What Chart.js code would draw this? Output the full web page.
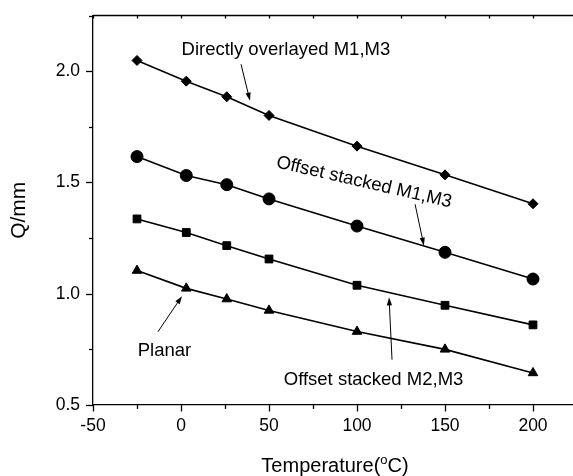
<!DOCTYPE html>
<html>
<head>
<meta charset="utf-8">
<script src="https://cdn.jsdelivr.net/npm/chart.js@4/dist/chart.umd.min.js"></script>
<style>
  html, body { margin: 0; padding: 0; background: #fff; overflow: hidden; }
  #wrap { width: 600px; height: 476px; position: relative; }
</style>
</head>
<body>
<div id="wrap"><canvas id="c"></canvas></div>
<script>
// ---- data ----
const temperatures = [-25, 3, 26, 50, 100, 150, 200];
const directlyOverlayedM1M3 = [2.048, 1.955, 1.885, 1.801, 1.663, 1.534, 1.404];
const offsetStackedM1M3 = [1.616, 1.531, 1.490, 1.426, 1.304, 1.186, 1.066];
const offsetStackedM2M3 = [1.336, 1.275, 1.216, 1.156, 1.038, 0.948, 0.860];
const planar = [1.104, 1.024, 0.976, 0.925, 0.830, 0.750, 0.644];

const xTickValues = [-50, -25, 0, 25, 50, 75, 100, 125, 150, 175, 200, 225];
const yTickValues = [0.5, 0.75, 1.0, 1.25, 1.5, 1.75, 2.0, 2.25];

const xTitle = 'Temperature(';
const xTitleSup = 'o';
const xTitleEnd = 'C)';
const yTitle = 'Q/mm';

// annotation texts with anchor positions in data units
const labelTexts = ['Directly overlayed M1,M3', 'Offset stacked M1,M3', 'Offset stacked M2,M3', 'Planar'];
const labelAnchors = [[0.3, 2.095], [104, 1.50], [109.4, 0.613], [-9.4, 0.744]];
const arrowFrom = [[34.1, 2.031], [133, 1.402], [119.9, 0.704], [-13.1, 0.829]];
const arrowTo = [[39.2, 1.867], [138, 1.216], [118.2, 0.984], [0.57, 0.989]];

const FONT = '"Liberation Sans", Arial, sans-serif';

function toPoints(vals) { return temperatures.map((t, i) => ({ x: t, y: vals[i] })); }

const decor = {
  id: 'decor',
  afterDraw(chart) {
    const { ctx, chartArea: ca } = chart;
    const x = chart.scales.x, y = chart.scales.y;
    ctx.save();
    ctx.strokeStyle = '#000';
    ctx.fillStyle = '#000';
    ctx.lineWidth = 1.3;
    // top frame line
    ctx.beginPath();
    ctx.moveTo(ca.left, ca.top);
    ctx.lineTo(ca.right + 5, ca.top);
    ctx.stroke();
    // x ticks
    xTickValues.forEach(v => {
      const px = Math.round(x.getPixelForValue(v)) + 0.5;
      const major = v % 50 === 0;
      ctx.beginPath();
      ctx.moveTo(px, ca.bottom);
      ctx.lineTo(px, ca.bottom + (major ? 6.5 : 4));
      ctx.moveTo(px, ca.top);
      ctx.lineTo(px, ca.top + 3);
      ctx.stroke();
    });
    // y ticks
    yTickValues.forEach(v => {
      const py = Math.round(y.getPixelForValue(v)) + 0.5;
      const major = Math.abs(v * 2 - Math.round(v * 2)) < 1e-9;
      ctx.beginPath();
      ctx.moveTo(ca.left, py);
      ctx.lineTo(ca.left - (major ? 7 : 4), py);
      ctx.stroke();
    });
    // arrows
    ctx.lineWidth = 1;
    arrowFrom.forEach((f, i) => {
      const x1 = x.getPixelForValue(f[0]), y1 = y.getPixelForValue(f[1]);
      const x2 = x.getPixelForValue(arrowTo[i][0]), y2 = y.getPixelForValue(arrowTo[i][1]);
      const a = Math.atan2(y2 - y1, x2 - x1);
      const L = 8, W = 2.6;
      ctx.beginPath();
      ctx.moveTo(x1, y1);
      ctx.lineTo(x2 - Math.cos(a) * L * 0.8, y2 - Math.sin(a) * L * 0.8);
      ctx.stroke();
      ctx.beginPath();
      ctx.moveTo(x2, y2);
      ctx.lineTo(x2 - Math.cos(a) * L - Math.sin(a) * W, y2 - Math.sin(a) * L + Math.cos(a) * W);
      ctx.lineTo(x2 - Math.cos(a) * L + Math.sin(a) * W, y2 - Math.sin(a) * L - Math.cos(a) * W);
      ctx.closePath();
      ctx.fill();
    });
    // labels
    ctx.font = '18.5px ' + FONT;
    ctx.textBaseline = 'middle';
    labelTexts.forEach((t, i) => {
      const px = x.getPixelForValue(labelAnchors[i][0]);
      const py = y.getPixelForValue(labelAnchors[i][1]);
      ctx.save();
      ctx.translate(px, py);
      if (i === 0) { ctx.textAlign = 'left'; }
      else { ctx.textAlign = 'center'; }
      if (i === 1) ctx.rotate(13 * Math.PI / 180);
      ctx.fillText(t, 0, 0);
      ctx.restore();
    });
    // x-axis title with superscript
    ctx.textAlign = 'left';
    ctx.textBaseline = 'alphabetic';
    ctx.font = '20px ' + FONT;
    const w1 = ctx.measureText(xTitle).width;
    const w3 = ctx.measureText(xTitleEnd).width;
    ctx.font = '13px ' + FONT;
    const w2 = ctx.measureText(xTitleSup).width;
    const total = w1 + w2 + w3;
    const cx = (ca.left + ca.right) / 2;
    const base = ca.bottom + 67;
    let sx = cx - total / 2;
    ctx.font = '20px ' + FONT;
    ctx.fillText(xTitle, sx, base);
    ctx.font = '13px ' + FONT;
    ctx.fillText(xTitleSup, sx + w1, base - 8);
    ctx.font = '20px ' + FONT;
    ctx.fillText(xTitleEnd, sx + w1 + w2, base);
    ctx.restore();
  }
};

const common = { borderColor: '#000', backgroundColor: '#000', pointBackgroundColor: '#000', pointBorderColor: '#000', borderWidth: 1.6, pointBorderWidth: 1, fill: false, tension: 0 };

new Chart(document.getElementById('c'), {
  type: 'line',
  data: {
    datasets: [
      Object.assign({ label: 'Directly overlayed M1,M3', data: toPoints(directlyOverlayedM1M3), pointStyle: 'rectRot', pointRadius: 5 }, common),
      Object.assign({ label: 'Offset stacked M1,M3', data: toPoints(offsetStackedM1M3), pointStyle: 'circle', pointRadius: 6 }, common),
      Object.assign({ label: 'Offset stacked M2,M3', data: toPoints(offsetStackedM2M3), pointStyle: 'rect', pointRadius: 5.5 }, common),
      Object.assign({ label: 'Planar', data: toPoints(planar), pointStyle: 'triangle', pointRadius: 5.5 }, common)
    ]
  },
  options: {
    responsive: true,
    maintainAspectRatio: false,
    animation: false,
    devicePixelRatio: 1,
    layout: { padding: { top: 11, right: 23, left: 0, bottom: 0 } },
    plugins: { legend: { display: false }, tooltip: { enabled: false } },
    scales: {
      x: {
        type: 'linear', min: -50, max: 225,
        afterBuildTicks: s => { s.ticks = xTickValues.map(v => ({ value: v })); },
        afterFit: s => { s.height = 71; },
        grid: { display: false, drawTicks: true, tickLength: 8 },
        border: { display: true, color: '#000', width: 1.3 },
        ticks: { color: '#000', font: { family: FONT, size: 17.5 }, padding: 3, maxRotation: 0, autoSkip: false,
          callback: v => (v % 50 === 0 ? String(v) : '') }
      },
      y: {
        type: 'linear', min: 0.5, max: 2.25,
        afterBuildTicks: s => { s.ticks = yTickValues.map(v => ({ value: v })); },
        afterFit: s => { s.width = 93; },
        grid: { display: false, drawTicks: true, tickLength: 8 },
        border: { display: true, color: '#000', width: 1.3 },
        ticks: { color: '#000', font: { family: FONT, size: 17.5 }, padding: 5, autoSkip: false,
          callback: v => (Math.abs(v * 2 - Math.round(v * 2)) < 1e-9 ? v.toFixed(1) : '') },
        title: { display: true, text: yTitle, color: '#000', font: { family: FONT, size: 21 }, padding: { top: 7, bottom: 0 } }
      }
    }
  },
  plugins: [decor]
});
</script>
</body>
</html>
